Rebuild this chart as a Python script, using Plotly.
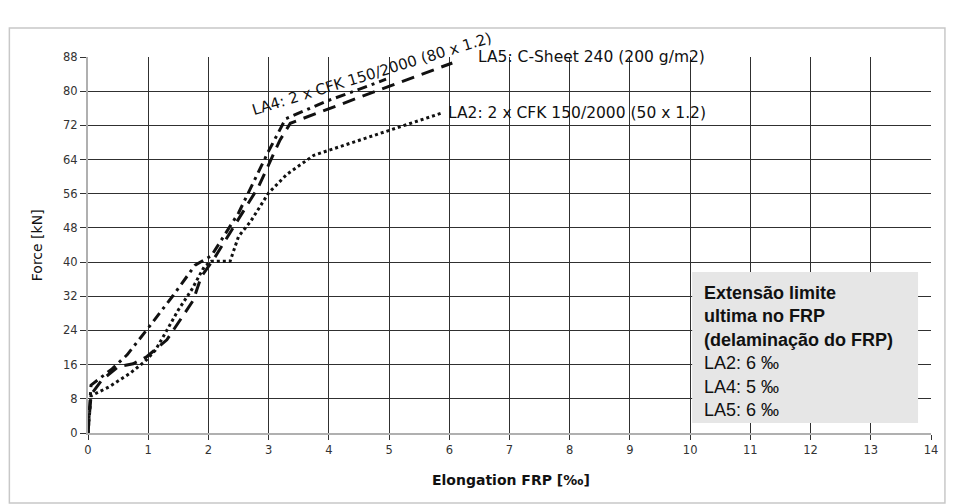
import plotly.graph_objects as go

# ---- data ----
la2_x = [0, 0.05, 0.35, 0.7, 0.95, 1.12, 1.28, 1.5, 1.72, 1.93, 2.05, 2.36, 2.5, 2.7, 3.0, 3.3, 3.75, 4.9, 5.9]
la2_y = [0, 8.7, 10.8, 14.0, 16.8, 19.4, 23.3, 28.8, 33.5, 38.9, 40.2, 40.2, 46.0, 49.5, 56.2, 60.5, 65.0, 70.3, 75.0]

la4_x = [0, 0.05, 0.4, 0.65, 1.04, 1.42, 1.78, 2.05, 2.5, 3.0, 3.28, 3.93, 4.61, 4.95]
la4_y = [0, 11.2, 15.0, 18.3, 25.3, 32.3, 39.3, 41.5, 51.5, 66.0, 73.5, 77.5, 81.0, 82.8]

la5_x = [0, 0.05, 0.23, 0.5, 0.75, 0.98, 1.31, 1.53, 1.75, 1.88, 2.08, 2.83, 3.19, 3.36, 4.0, 4.78, 6.05]
la5_y = [0, 9.0, 12.4, 15.5, 16.2, 17.9, 21.8, 26.4, 31.1, 36.6, 40.5, 57.6, 68.6, 72.5, 75.8, 80.0, 86.6]

x_ticks = list(range(0, 15))
y_ticks = list(range(0, 89, 8))

label_la2 = "LA2: 2 x CFK 150/2000 (50 x 1.2)"
label_la4 = "LA4: 2 x CFK 150/2000 (80 x 1.2)"
label_la5 = "LA5: C-Sheet 240 (200 g/m2)"
box_lines_bold = ["Extensão limite", "ultima no FRP", "(delaminação do FRP)"]
box_lines = ["LA2: 6 ‰", "LA4: 5 ‰", "LA5: 6 ‰"]

# ---- layout geometry (screen pixels; page body adds an 8px margin) ----
OFF = 8
FW, FH = 942, 496
L, R, T, B = 88, 935, 57, 433
pw, ph = R - L, B - T


def px_x(p):
    return (p - L) / pw


def px_y(p):
    return (B - p) / ph


fig = go.Figure()

fig.add_trace(go.Scatter(x=la2_x, y=la2_y, mode="lines", name="LA2",
                         line=dict(color="#111", width=3, dash="3px,3px")))
fig.add_trace(go.Scatter(x=la4_x, y=la4_y, mode="lines", name="LA4",
                         line=dict(color="#111", width=3, dash="10px,5px,3px,5px")))
fig.add_trace(go.Scatter(x=la5_x, y=la5_y, mode="lines", name="LA5",
                         line=dict(color="#111", width=3, dash="13px,8px")))

tick_font = dict(family="DejaVu Sans", size=11.5, color="#333")

fig.update_layout(
    width=FW, height=FH,
    margin=dict(l=L - OFF, r=OFF + FW - R, t=T - OFF, b=OFF + FH - B, pad=0),
    paper_bgcolor="white", plot_bgcolor="white",
    showlegend=False, hovermode=False,
    xaxis=dict(range=[0, 14], tickvals=x_ticks, ticktext=[str(v) for v in x_ticks],
               showgrid=True, gridcolor="#303030", gridwidth=1.2,
               showline=True, linecolor="#b0b0b0", linewidth=2,
               ticks="outside", ticklen=5, tickcolor="#333", tickwidth=1.2,
               zeroline=False, tickfont=tick_font, fixedrange=True),
    yaxis=dict(range=[0, 88], tickvals=y_ticks, ticktext=[str(v) for v in y_ticks],
               showgrid=True, gridcolor="#303030", gridwidth=1.2,
               showline=True, linecolor="#b0b0b0", linewidth=2,
               ticks="outside", ticklen=6, tickcolor="#333", tickwidth=1.2,
               zeroline=False, tickfont=tick_font, fixedrange=True),
)

# outer light border
fig.add_shape(type="rect", xref="paper", yref="paper",
              x0=px_x(9), x1=px_x(949), y0=px_y(503), y1=px_y(28),
              line=dict(color="#c8c8c8", width=1.5), fillcolor="rgba(0,0,0,0)", layer="below")

# grey info box
fig.add_shape(type="rect", xref="paper", yref="paper",
              x0=px_x(695), x1=px_x(922), y0=px_y(423), y1=px_y(272),
              line=dict(width=0), fillcolor="#e6e6e6", layer="above")

box_text = "<br>".join("<b>" + s + "</b>" for s in box_lines_bold) + "<br>" + "<br>".join(box_lines)
fig.add_annotation(xref="paper", yref="paper", x=px_x(706), y=px_y(282),
                   xanchor="left", yanchor="top", align="left", showarrow=False,
                   text=box_text, borderpad=0,
                   font=dict(family="Liberation Sans, Arial", size=18, color="#111"))

label_font = dict(family="DejaVu Sans", size=15.5, color="#111")
fig.add_annotation(x=la2_x[-1], y=la2_y[-1], xanchor="left", yanchor="middle",
                   xshift=3, showarrow=False, text=label_la2, font=label_font)
fig.add_annotation(x=la5_x[-1], y=la5_y[-1], xanchor="left", yanchor="middle",
                   xshift=24, yshift=6, showarrow=False, text=label_la5, font=label_font)
fig.add_annotation(xref="paper", yref="paper", x=px_x(373), y=px_y(74),
                   xanchor="center", yanchor="middle", showarrow=False,
                   textangle=-17, text=label_la4,
                   font=dict(family="DejaVu Sans", size=15, color="#111"))

# axis titles
fig.add_annotation(xref="paper", yref="paper", x=px_x(37), y=px_y(245),
                   xanchor="center", yanchor="middle", showarrow=False, textangle=-90,
                   text="Force [kN]", font=dict(family="DejaVu Sans", size=14, color="#111"))
fig.add_annotation(xref="paper", yref="paper", x=px_x(513), y=px_y(480),
                   xanchor="center", yanchor="middle", showarrow=False,
                   text="<b>Elongation FRP [‰]</b>", font=dict(family="DejaVu Sans", size=14, color="#111"))

fig.write_html("out.html")
